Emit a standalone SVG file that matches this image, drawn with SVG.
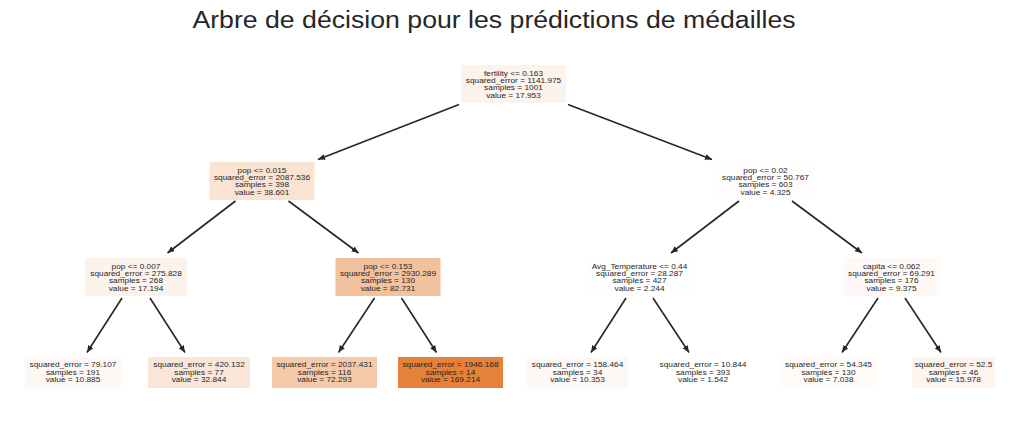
<svg xmlns="http://www.w3.org/2000/svg" width="1027" height="431" viewBox="0 0 1027 431">
<style>
.t{font-family:"Liberation Sans",Arial,sans-serif;font-size:6.8px;fill:#262626;text-anchor:middle}
.title{font-family:"Liberation Sans",Arial,sans-serif;font-size:23px;fill:#262626;text-anchor:middle}
.e{stroke:#262626;stroke-width:1.6;fill:none;marker-end:url(#ah)}
</style>
<defs>
<marker id="ah" markerUnits="userSpaceOnUse" markerWidth="8" markerHeight="7" refX="7" refY="3" orient="auto" viewBox="0 0 8 7">
<path d="M0,0 L7,3 L0,6 z" fill="#262626"/>
</marker>
</defs>
<rect width="1027" height="431" fill="#ffffff"/>
<g transform="translate(494,0) scale(1.16,1)"><text class="title" x="0" y="28">Arbre de décision pour les prédictions de médailles</text></g>
<g id="edges">
<line class="e" x1="459" y1="104.5" x2="318" y2="159.5"/>
<line class="e" x1="568" y1="104.5" x2="712" y2="159.5"/>
<line class="e" x1="235.5" y1="201" x2="167.5" y2="253"/>
<line class="e" x1="288.5" y1="201" x2="358.5" y2="253"/>
<line class="e" x1="739" y1="201" x2="671" y2="253"/>
<line class="e" x1="792" y1="201" x2="862" y2="253"/>
<line class="e" x1="122" y1="298" x2="87" y2="352.5"/>
<line class="e" x1="150" y1="298" x2="185" y2="352.5"/>
<line class="e" x1="374.5" y1="298" x2="338.5" y2="352.5"/>
<line class="e" x1="401.5" y1="298" x2="436.5" y2="352.5"/>
<line class="e" x1="626" y1="298" x2="591" y2="352.5"/>
<line class="e" x1="653" y1="298" x2="689" y2="352.5"/>
<line class="e" x1="878" y1="298" x2="842" y2="352.5"/>
<line class="e" x1="905" y1="298" x2="941" y2="352.5"/>
</g>
<g id="n0"><rect x="461" y="65" width="105" height="38" fill="#fcf3ec"/>
<g transform="translate(513.5,0) scale(1.22,1)"><text class="t" x="0" y="75.7">fertility &lt;= 0.163</text><text class="t" x="0" y="83.1">squared_error = 1141.975</text><text class="t" x="0" y="90.5">samples = 1001</text><text class="t" x="0" y="97.9">value = 17.953</text></g></g>
<g id="n1"><rect x="209.5" y="162" width="105" height="38" fill="#f9e3d3"/>
<g transform="translate(262,0) scale(1.22,1)"><text class="t" x="0" y="172.7">pop &lt;= 0.015</text><text class="t" x="0" y="180.1">squared_error = 2087.536</text><text class="t" x="0" y="187.5">samples = 398</text><text class="t" x="0" y="194.9">value = 38.601</text></g></g>
<g id="n2"><rect x="717.5" y="162" width="96" height="38" fill="#fffdfc"/>
<g transform="translate(765.5,0) scale(1.22,1)"><text class="t" x="0" y="172.7">pop &lt;= 0.02</text><text class="t" x="0" y="180.1">squared_error = 50.767</text><text class="t" x="0" y="187.5">samples = 603</text><text class="t" x="0" y="194.9">value = 4.325</text></g></g>
<g id="n3"><rect x="85" y="258" width="102" height="38" fill="#fdf3ed"/>
<g transform="translate(136,0) scale(1.22,1)"><text class="t" x="0" y="268.7">pop &lt;= 0.007</text><text class="t" x="0" y="276.1">squared_error = 275.828</text><text class="t" x="0" y="283.5">samples = 268</text><text class="t" x="0" y="290.9">value = 17.194</text></g></g>
<g id="n4"><rect x="335.5" y="258" width="105" height="38" fill="#f2c29f"/>
<g transform="translate(388,0) scale(1.22,1)"><text class="t" x="0" y="268.7">pop &lt;= 0.153</text><text class="t" x="0" y="276.1">squared_error = 2930.289</text><text class="t" x="0" y="283.5">samples = 130</text><text class="t" x="0" y="290.9">value = 82.731</text></g></g>
<g id="n5"><rect x="587" y="258" width="105" height="38" fill="#fffefe"/>
<g transform="translate(639.5,0) scale(1.22,1)"><text class="t" x="0" y="268.7">Avg_Temperature &lt;= 0.44</text><text class="t" x="0" y="276.1">squared_error = 28.287</text><text class="t" x="0" y="283.5">samples = 427</text><text class="t" x="0" y="290.9">value = 2.244</text></g></g>
<g id="n6"><rect x="843.5" y="258" width="96" height="38" fill="#fef9f6"/>
<g transform="translate(891.5,0) scale(1.22,1)"><text class="t" x="0" y="268.7">capita &lt;= 0.062</text><text class="t" x="0" y="276.1">squared_error = 69.291</text><text class="t" x="0" y="283.5">samples = 176</text><text class="t" x="0" y="290.9">value = 9.375</text></g></g>
<g id="l1"><rect x="25" y="357" width="96" height="31" fill="#fef8f4"/>
<g transform="translate(73,0) scale(1.22,1)"><text class="t" x="0" y="367.5">squared_error = 79.107</text><text class="t" x="0" y="374.9">samples = 191</text><text class="t" x="0" y="382.3">value = 10.885</text></g></g>
<g id="l2"><rect x="148" y="357" width="102" height="31" fill="#fae7da"/>
<g transform="translate(199,0) scale(1.22,1)"><text class="t" x="0" y="367.5">squared_error = 420.132</text><text class="t" x="0" y="374.9">samples = 77</text><text class="t" x="0" y="382.3">value = 32.844</text></g></g>
<g id="l3"><rect x="272" y="357" width="105" height="31" fill="#f4caab"/>
<g transform="translate(324.5,0) scale(1.22,1)"><text class="t" x="0" y="367.5">squared_error = 2037.431</text><text class="t" x="0" y="374.9">samples = 116</text><text class="t" x="0" y="382.3">value = 72.293</text></g></g>
<g id="l4"><rect x="398" y="357" width="105" height="31" fill="#e58139"/>
<g transform="translate(450.5,0) scale(1.22,1)"><text class="t" x="0" y="367.5">squared_error = 1946.168</text><text class="t" x="0" y="374.9">samples = 14</text><text class="t" x="0" y="382.3">value = 169.214</text></g></g>
<g id="l5"><rect x="526.5" y="357" width="102" height="31" fill="#fef8f5"/>
<g transform="translate(577.5,0) scale(1.22,1)"><text class="t" x="0" y="367.5">squared_error = 158.464</text><text class="t" x="0" y="374.9">samples = 34</text><text class="t" x="0" y="382.3">value = 10.353</text></g></g>
<g id="l6"><rect x="655" y="357" width="96" height="31" fill="#ffffff"/>
<g transform="translate(703,0) scale(1.22,1)"><text class="t" x="0" y="367.5">squared_error = 10.844</text><text class="t" x="0" y="374.9">samples = 393</text><text class="t" x="0" y="382.3">value = 1.542</text></g></g>
<g id="l7"><rect x="780.5" y="357" width="96" height="31" fill="#fefbf9"/>
<g transform="translate(828.5,0) scale(1.22,1)"><text class="t" x="0" y="367.5">squared_error = 54.345</text><text class="t" x="0" y="374.9">samples = 130</text><text class="t" x="0" y="382.3">value = 7.038</text></g></g>
<g id="l8"><rect x="912" y="357" width="83" height="31" fill="#fdf4ee"/>
<g transform="translate(953.5,0) scale(1.22,1)"><text class="t" x="0" y="367.5">squared_error = 52.5</text><text class="t" x="0" y="374.9">samples = 46</text><text class="t" x="0" y="382.3">value = 15.978</text></g></g>
</svg>
